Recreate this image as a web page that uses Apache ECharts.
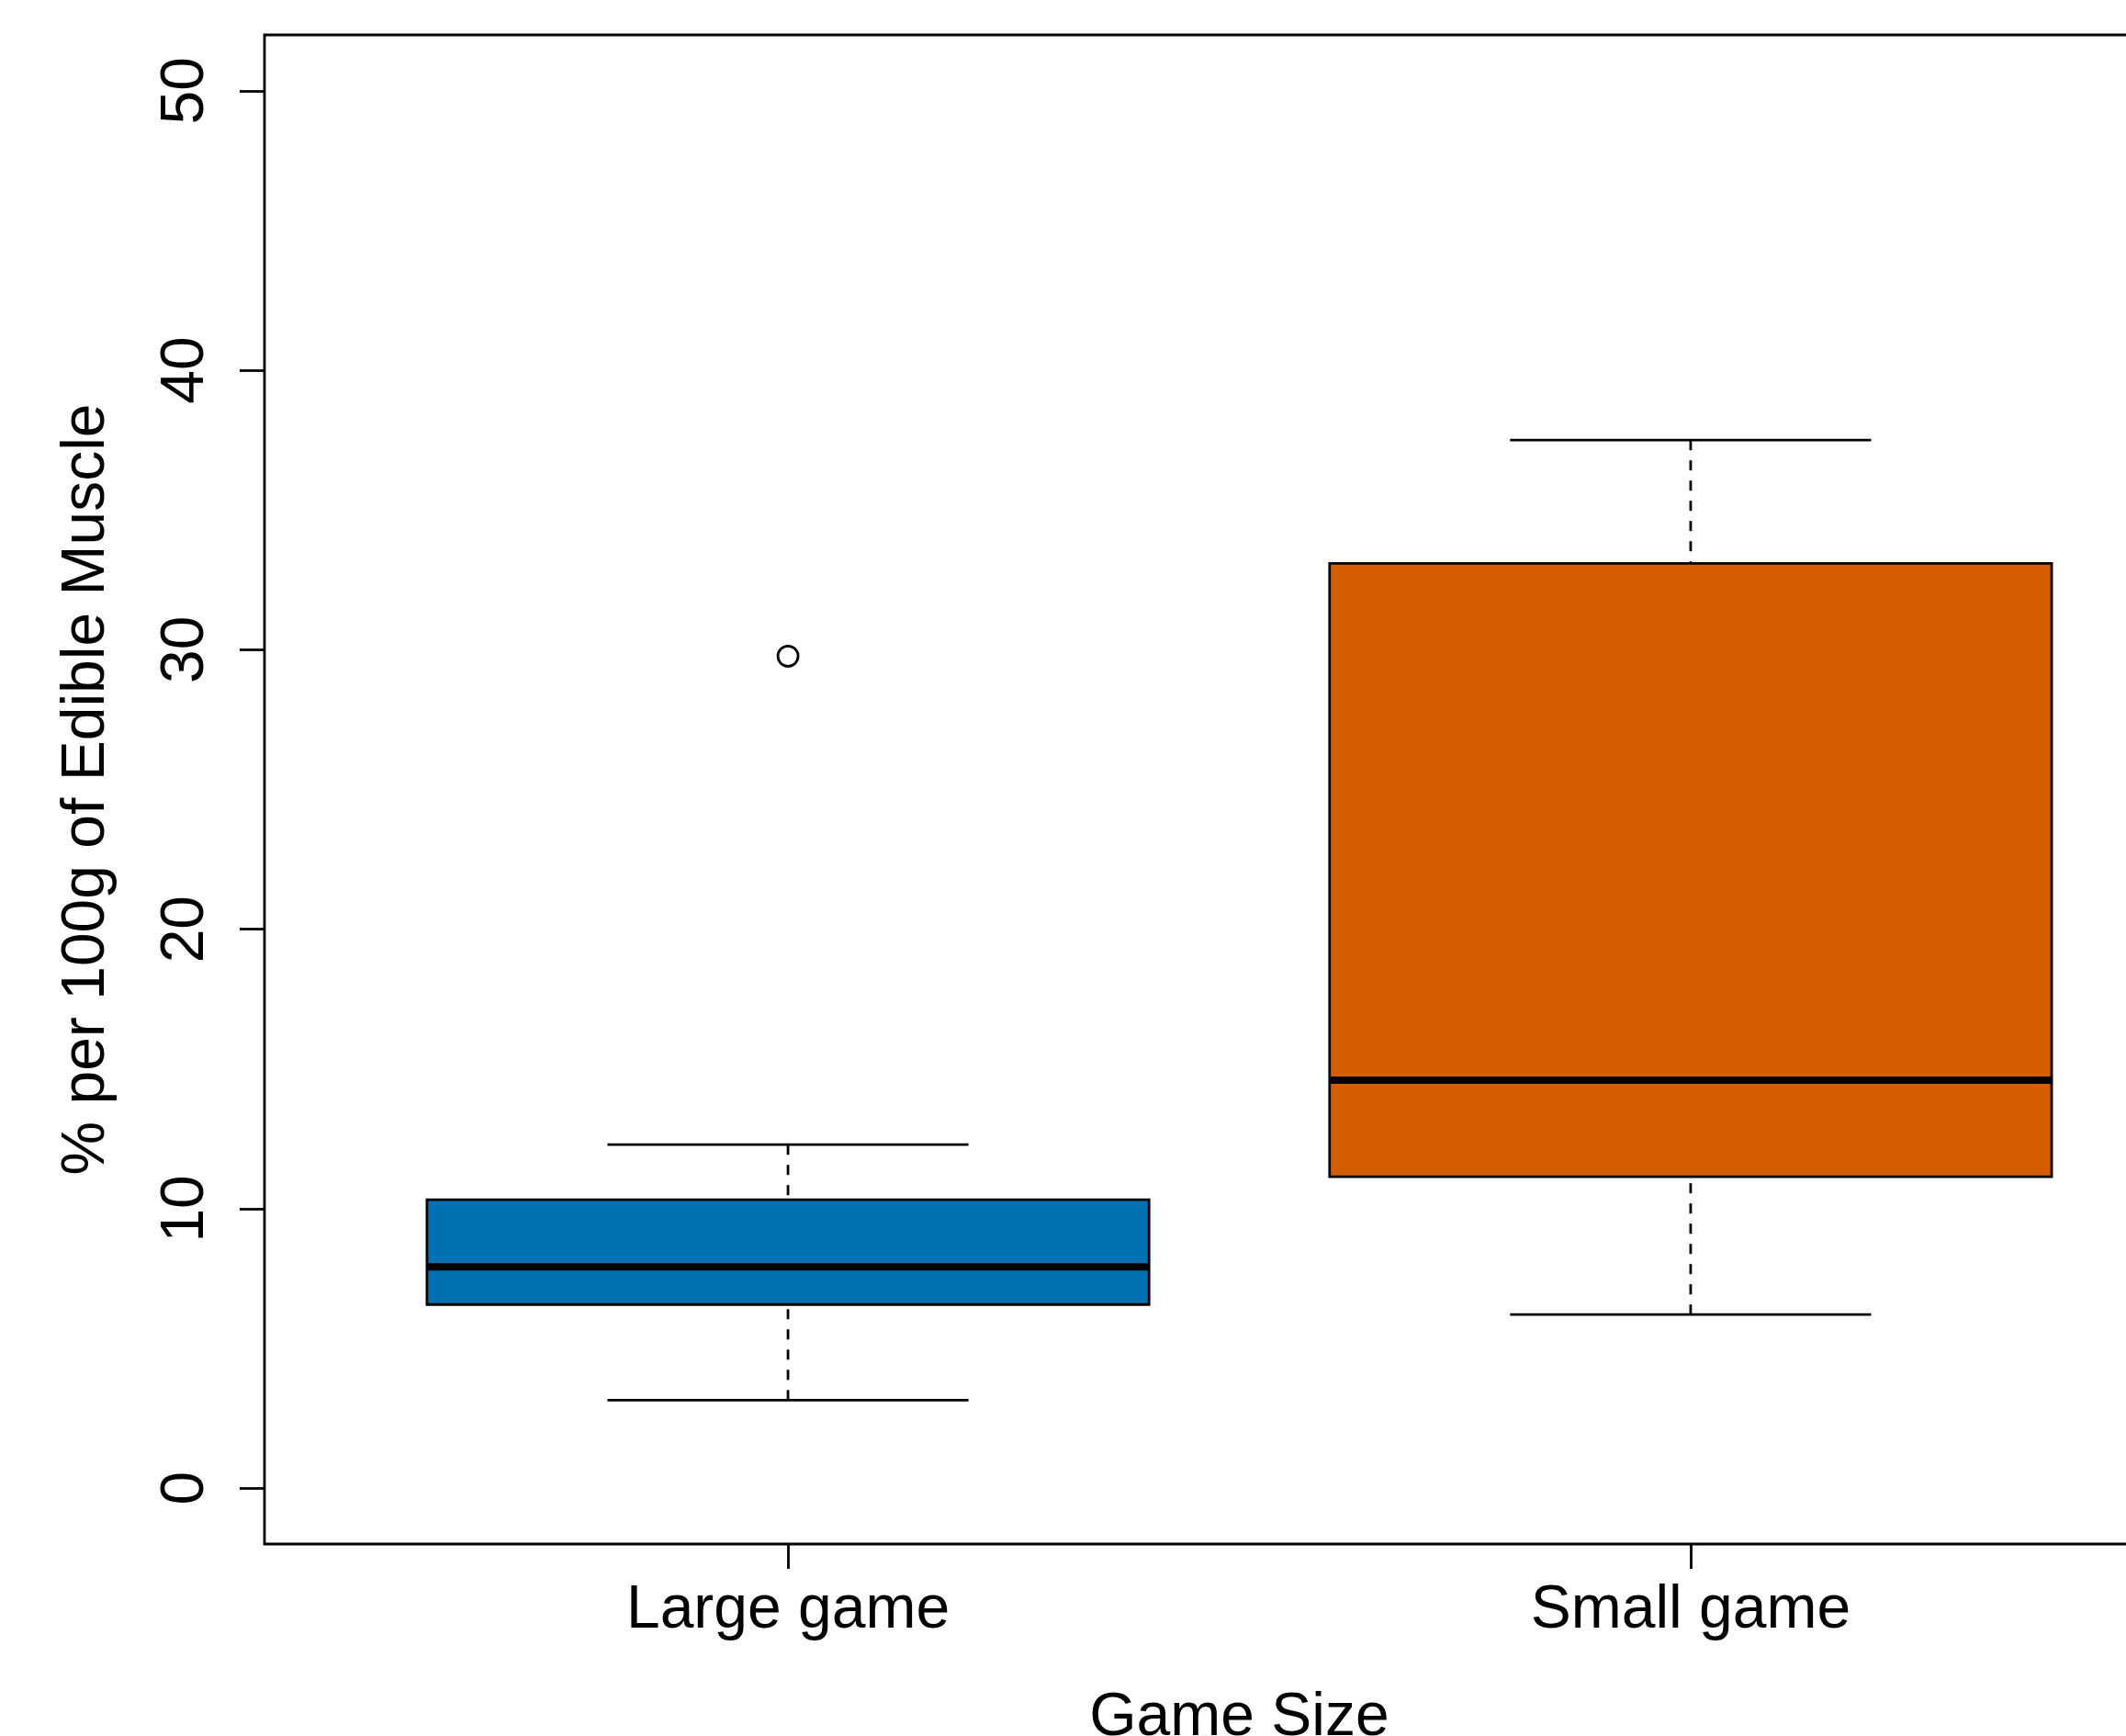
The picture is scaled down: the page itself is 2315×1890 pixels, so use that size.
<!DOCTYPE html>
<html>
<head>
<meta charset="utf-8">
<title>Game Size boxplot</title>
<script src="https://cdn.jsdelivr.net/npm/echarts@6/dist/echarts.min.js"></script>
<style>
  html, body { margin: 0; padding: 0; background: #fff; overflow: hidden; }
  /* the plot frame runs past the right edge of the page, so the drawing surface is wider */
  #chart { width: 2500px; height: 1950px; }
</style>
</head>
<body>
<div id="chart"></div>
<script>
// Five-number summaries per game size (% per 100g of edible muscle)
const categories = ['Large game', 'Small game'];
const whiskerLow = [3.15, 6.21];
const lowerQuartile = [6.57, 11.14];
const medians = [7.92, 14.60];
const upperQuartile = [10.32, 33.09];
const whiskerHigh = [12.29, 37.50];
// Points beyond the whiskers: [category position, value]
const outliers = [[1, 29.77]];
const fills = ['#0072B2', '#D55E00'];
const yTicks = [0, 10, 20, 30, 40, 50];

const FONT = 'Liberation Sans, Arial, Helvetica, sans-serif';
const LW = 2.8;

const boxData = categories.map((c, i) => [
  i + 1, whiskerLow[i], lowerQuartile[i], medians[i], upperQuartile[i], whiskerHigh[i]
]);

function renderBox(params, api) {
  const x = api.value(0);
  const lo = api.value(1), q1 = api.value(2), med = api.value(3), q3 = api.value(4), hi = api.value(5);
  const halfBox = 0.4, halfStaple = 0.2;
  const pLo = api.coord([x, lo]);
  const pQ1 = api.coord([x, q1]);
  const pQ3 = api.coord([x, q3]);
  const pHi = api.coord([x, hi]);
  const boxTL = api.coord([x - halfBox, q3]);
  const boxBR = api.coord([x + halfBox, q1]);
  const medL = api.coord([x - halfBox, med]);
  const medR = api.coord([x + halfBox, med]);
  const stL = api.coord([x - halfStaple, lo])[0];
  const stR = api.coord([x + halfStaple, lo])[0];
  const dashed = { stroke: '#000', lineWidth: LW, lineDash: [11, 11] };
  const solid = { stroke: '#000', lineWidth: LW };
  return {
    type: 'group',
    children: [
      { type: 'line', shape: { x1: pLo[0], y1: pLo[1], x2: pQ1[0], y2: pQ1[1] }, style: dashed },
      { type: 'line', shape: { x1: pHi[0], y1: pHi[1], x2: pQ3[0], y2: pQ3[1] }, style: dashed },
      { type: 'line', shape: { x1: stL, y1: pLo[1], x2: stR, y2: pLo[1] }, style: solid },
      { type: 'line', shape: { x1: stL, y1: pHi[1], x2: stR, y2: pHi[1] }, style: solid },
      {
        type: 'rect',
        shape: { x: boxTL[0], y: boxTL[1], width: boxBR[0] - boxTL[0], height: boxBR[1] - boxTL[1] },
        style: { fill: fills[params.dataIndex], stroke: '#000', lineWidth: LW }
      },
      { type: 'line', shape: { x1: medL[0], y1: medL[1], x2: medR[0], y2: medR[1] }, style: { stroke: '#000', lineWidth: 8 } }
    ]
  };
}

const chart = echarts.init(document.getElementById('chart'), null, { renderer: 'canvas' });
chart.setOption({
  animation: false,
  backgroundColor: '#fff',
  textStyle: { fontFamily: FONT },
  grid: {
    left: 288, top: 38, width: 2123, height: 1643,
    outerBoundsMode: 'none',
    show: true, borderColor: '#000', borderWidth: LW, backgroundColor: 'transparent'
  },
  xAxis: {
    type: 'value', min: 0.42, max: 2.58,
    name: 'Game Size', nameLocation: 'middle', nameGap: 157,
    nameTextStyle: { fontSize: 66, color: '#000', fontFamily: FONT, lineHeight: 66 },
    splitLine: { show: false },
    axisLine: { show: false, onZero: false },
    axisTick: { show: true, customValues: [1, 2], length: 27, lineStyle: { color: '#000', width: LW } },
    axisLabel: {
      customValues: [1, 2], margin: 40, fontSize: 66, color: '#000', fontFamily: FONT, lineHeight: 66,
      formatter: v => categories[Math.round(v) - 1]
    }
  },
  yAxis: {
    type: 'value', min: -2, max: 52,
    name: '% per 100g of Edible Muscle', nameLocation: 'middle', nameGap: 160,
    nameTextStyle: { fontSize: 66, color: '#000', fontFamily: FONT, lineHeight: 66 },
    splitLine: { show: false },
    axisLine: { show: false, onZero: false },
    axisTick: { show: true, customValues: yTicks, length: 27, lineStyle: { color: '#000', width: LW } },
    axisLabel: {
      customValues: yTicks, rotate: 90, margin: 52, fontSize: 66, color: '#000', fontFamily: FONT, lineHeight: 66
    }
  },
  series: [
    {
      type: 'custom',
      renderItem: renderBox,
      encode: { x: 0, y: [1, 2, 3, 4, 5] },
      data: boxData,
      clip: false
    },
    {
      type: 'scatter',
      data: outliers,
      symbol: 'circle',
      symbolSize: 22,
      itemStyle: { color: 'rgba(0,0,0,0)', borderColor: '#000', borderWidth: LW, opacity: 1 }
    }
  ]
});
</script>
</body>
</html>
